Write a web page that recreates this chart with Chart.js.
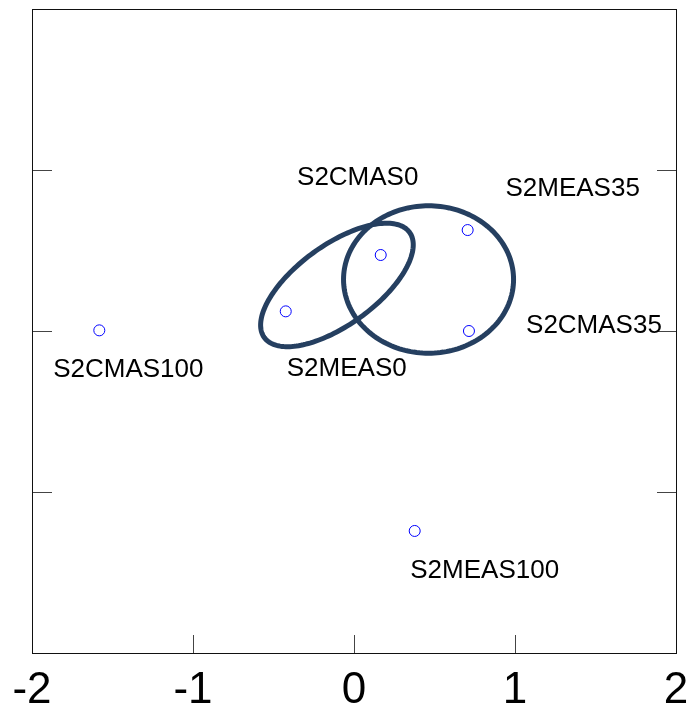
<!DOCTYPE html>
<html>
<head>
<meta charset="utf-8">
<script src="https://cdn.jsdelivr.net/npm/chart.js@4.4.0/dist/chart.umd.min.js"></script>
<style>
  html, body { margin: 0; padding: 0; background: #ffffff; }
  #wrap { width: 689px; height: 711px; position: relative; }
</style>
</head>
<body>
<div id="wrap"><canvas id="c" width="689" height="711"></canvas></div>
<script>
// ---- data ----
const categories = ['S2CMAS100', 'S2MEAS0', 'S2CMAS0', 'S2MEAS35', 'S2CMAS35', 'S2MEAS100'];
const xValues = [-1.582, -0.424, 0.166, 0.706, 0.714, 0.377];
const yValues = [0.004, 0.122, 0.472, 0.627, 0.0, -1.242];
const xTickValues = [-2, -1, 0, 1, 2];
const yTickValues = [-1, 0, 1];
const ellipseCenterX = [-0.106, 0.463];
const ellipseCenterY = [0.286, 0.320];
const ellipseRadiusA = [0.557, 0.528];
const ellipseRadiusB = [0.248, 0.458];
const ellipseAngleDeg = [35.9, 0];

// ---- styling (pixel offsets of the text labels relative to their points) ----
const labelOffsets = [[29, 39], [61, 57], [-23, -77], [105, -41], [125, -5], [70, 40]];
const FONT = '"Liberation Sans", Arial, sans-serif';

const points = xValues.map((x, i) => ({ x: x, y: yValues[i] }));

const framePlugin = {
  id: 'frame',
  beforeDatasetsDraw(chart) {
    const { ctx, scales: { x, y } } = chart;
    ctx.save();
    ctx.strokeStyle = '#253f60';
    ctx.lineWidth = 5;
    ellipseCenterX.forEach((cx, k) => {
      const cy = ellipseCenterY[k], A = ellipseRadiusA[k], B = ellipseRadiusB[k];
      const th = ellipseAngleDeg[k] * Math.PI / 180;
      ctx.beginPath();
      const n = 180;
      for (let i = 0; i <= n; i++) {
        const t = i / n * Math.PI * 2;
        const dx = A * Math.cos(th) * Math.cos(t) - B * Math.sin(th) * Math.sin(t);
        const dy = A * Math.sin(th) * Math.cos(t) + B * Math.cos(th) * Math.sin(t);
        const px = x.getPixelForValue(cx + dx), py = y.getPixelForValue(cy + dy);
        if (i === 0) ctx.moveTo(px, py); else ctx.lineTo(px, py);
      }
      ctx.closePath();
      ctx.stroke();
    });
    ctx.restore();
  },
  afterDatasetsDraw(chart) {
    const { ctx, chartArea: a, scales: { x, y } } = chart;
    ctx.save();
    ctx.strokeStyle = '#444';
    ctx.lineWidth = 1;
    ctx.beginPath();
    xTickValues.forEach(v => {
      const px = Math.round(x.getPixelForValue(v)) + 0.5;
      ctx.moveTo(px, a.bottom); ctx.lineTo(px, a.bottom - 18);
    });
    yTickValues.forEach(v => {
      const py = Math.round(y.getPixelForValue(v)) + 0.5;
      ctx.moveTo(a.left, py); ctx.lineTo(a.left + 20, py);
      ctx.moveTo(a.right, py); ctx.lineTo(a.right - 19, py);
    });
    ctx.stroke();
    ctx.strokeStyle = '#111';
    ctx.strokeRect(Math.round(a.left) + 0.5, Math.round(a.top) + 0.5,
                   Math.round(a.right - a.left), Math.round(a.bottom - a.top));
    ctx.fillStyle = '#000';
    ctx.font = '26px ' + FONT;
    ctx.textAlign = 'center';
    ctx.textBaseline = 'middle';
    categories.forEach((name, i) => {
      const px = x.getPixelForValue(xValues[i]) + labelOffsets[i][0];
      const py = y.getPixelForValue(yValues[i]) + labelOffsets[i][1];
      ctx.fillText(name, px, py);
    });
    ctx.restore();
  }
};

new Chart(document.getElementById('c'), {
  type: 'scatter',
  data: {
    datasets: [{
      data: points,
      pointStyle: 'circle',
      pointRadius: 5.5,
      pointHoverRadius: 5.5,
      pointBorderColor: '#0000ff',
      pointBackgroundColor: 'rgba(0,0,0,0)',
      pointBorderWidth: 1
    }]
  },
  options: {
    responsive: false,
    animation: false,
    devicePixelRatio: 1,
    layout: { padding: { left: 32, right: 13, top: 9, bottom: 0 } },
    plugins: { legend: { display: false }, tooltip: { enabled: false } },
    scales: {
      x: {
        type: 'linear', min: -2, max: 2,
        afterBuildTicks(scale) { scale.ticks = xTickValues.map(v => ({ value: v })); },
        afterFit(scale) { scale.height = 58; scale.paddingLeft = 0; scale.paddingRight = 0; },
        grid: { display: false },
        border: { display: false },
        ticks: {
          color: '#000',
          padding: 8,
          maxRotation: 0,
          minRotation: 0,
          autoSkip: false,
          font: { size: 44, family: FONT, lineHeight: 1 },
          callback: v => String(v)
        }
      },
      y: {
        type: 'linear', min: -2, max: 2, display: false
      }
    }
  },
  plugins: [framePlugin]
});
</script>
</body>
</html>
